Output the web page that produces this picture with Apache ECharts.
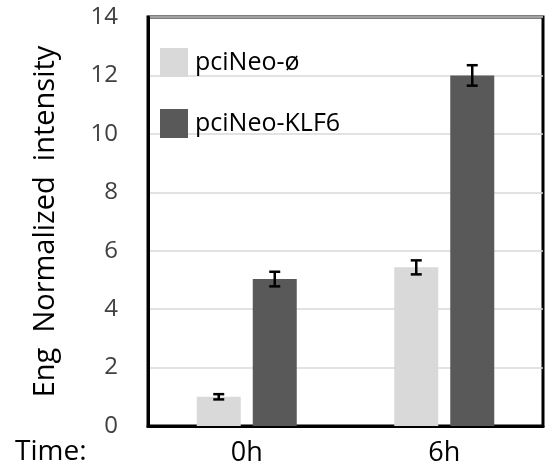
<!DOCTYPE html>
<html>
<head>
<meta charset="utf-8">
<script src="https://cdn.jsdelivr.net/npm/echarts@6/dist/echarts.min.js"></script>
<style>
  html, body { margin: 0; padding: 0; background: #fff; }
  #chart { width: 545px; height: 474px; }
</style>
</head>
<body>
<div id="chart"></div>
<script>
// data
var categories = ['0h', '6h']
var seriesNames = ['pciNeo-ø', 'pciNeo-KLF6']
var emptyValues = [1.0, 5.43]
var emptyErrors = [0.09, 0.24]
var klf6Values = [5.03, 12.0]
var klf6Errors = [0.25, 0.35]
var yTicks = { min: 0, max: 14, step: 2 }

var lightColor = '#d9d9d9'
var darkColor = '#595959'
var font = 'Open Sans'
var barWidth = 44
var barGapPx = 12

function errorSeries (values, errors, side) {
  var data = values.map(function (v, i) { return [i, v, errors[i]] })
  return {
    type: 'custom',
    z: 10,
    data: data,
    renderItem: function (params, api) {
      var x = api.value(0)
      var v = api.value(1)
      var e = api.value(2)
      var offset = side * (barWidth + barGapPx) / 2
      var hi = api.coord([x, v + e])
      var lo = api.coord([x, v - e])
      var cx = hi[0] + offset
      var cap = 5.5
      var style = { stroke: '#000', lineWidth: 2.5 }
      return {
        type: 'group',
        children: [
          { type: 'line', shape: { x1: cx, y1: hi[1], x2: cx, y2: lo[1] }, style: style },
          { type: 'line', shape: { x1: cx - cap, y1: hi[1], x2: cx + cap, y2: hi[1] }, style: style },
          { type: 'line', shape: { x1: cx - cap, y1: lo[1], x2: cx + cap, y2: lo[1] }, style: style }
        ]
      }
    }
  }
}

var myChart = echarts.init(document.getElementById('chart'))
var option = {
  backgroundColor: '#fff',
  animation: false,
  textStyle: { fontFamily: font },
  grid: {
    left: 148,
    right: 2,
    top: 17,
    bottom: 48,
    show: true,
    borderColor: '#000',
    borderWidth: 3,
    backgroundColor: 'transparent'
  },
  legend: {
    orient: 'vertical',
    left: 155,
    top: 43,
    itemWidth: 28,
    itemHeight: 29,
    itemGap: 32,
    icon: 'rect',
    data: seriesNames,
    textStyle: { fontFamily: font, fontSize: 25, color: '#000', padding: [0, 0, 0, 2] }
  },
  xAxis: {
    type: 'category',
    data: categories,
    axisLine: { show: true, lineStyle: { color: '#000', width: 3 } },
    axisTick: { show: false },
    axisLabel: { fontFamily: font, fontSize: 27, color: '#000', margin: 14 }
  },
  yAxis: {
    type: 'value',
    min: yTicks.min,
    max: yTicks.max,
    interval: yTicks.step,
    name: 'Eng  Normalized  intensity',
    nameLocation: 'middle',
    nameGap: 88,
    nameTextStyle: { fontFamily: font, fontSize: 29, color: '#000' },
    axisLine: { show: true, lineStyle: { color: '#000', width: 3 } },
    axisTick: { show: false },
    axisLabel: { fontFamily: font, fontSize: 24, color: '#404040', margin: 30 },
    splitLine: { lineStyle: { color: '#d9d9d9', width: 1.5 } }
  },
  graphic: [
    {
      type: 'text',
      left: 15,
      top: 438,
      style: { text: 'Time:', fontFamily: font, fontSize: 28, fill: '#000' }
    }
  ],
  series: [
    {
      name: seriesNames[0],
      type: 'bar',
      data: emptyValues,
      barWidth: barWidth,
      barGap: (barGapPx / barWidth * 100) + '%',
      itemStyle: { color: lightColor }
    },
    {
      name: seriesNames[1],
      type: 'bar',
      data: klf6Values,
      barWidth: barWidth,
      itemStyle: { color: darkColor }
    },
    errorSeries(emptyValues, emptyErrors, -1),
    errorSeries(klf6Values, klf6Errors, 1)
  ]
}
myChart.setOption(option)
</script>
</body>
</html>
